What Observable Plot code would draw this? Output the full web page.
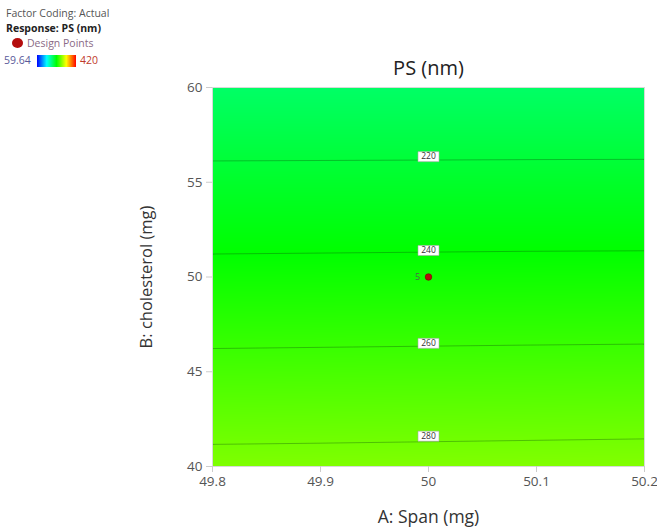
<!DOCTYPE html>
<html><head><meta charset="utf-8">
<script src="https://cdn.jsdelivr.net/npm/d3@7"></script>
<script src="https://cdn.jsdelivr.net/npm/@observablehq/plot@0.6"></script>
<style>
body{margin:0;background:#fff;font-family:"Open Sans",sans-serif}
#wrap{position:relative;width:657px;height:527px;overflow:hidden}
#wrap svg{position:absolute;left:0;top:0}
.lg{position:absolute;font-size:10.5px;white-space:nowrap;line-height:12px}
</style></head><body><div id="wrap"></div>
<script>
// Factor grid (actual units)
const spanLevels = [49.8, 50.2];            // A: Span (mg)
const cholLevels = [40, 45, 50, 55, 60];     // B: cholesterol (mg)
// PS (nm) at each grid point
const psAtLeft  = [284.6, 264.9, 244.9, 224.7, 203.8];
const psAtRight = [285.8, 265.9, 245.7, 225.1, 204.0];
// Contour levels and label positions (on A = 50)
const contourLevels = [220, 240, 260, 280];
const contourLabelB = [56.35, 51.4, 46.5, 41.6];
// Design points
const designA = [50];
const designB = [50];
const designN = ["5"];
// Axis ticks
const xTicks = [49.8, 49.9, 50, 50.1, 50.2];
const xTickLabels = ["49.8", "49.9", "50", "50.1", "50.2"];
const yTicks = [40, 45, 50, 55, 60];
// Colour scale
const colorDomain = [59.64, 149.73, 239.82, 329.91, 420];
const colorRange = ["#0000ff", "#00ffff", "#00ff00", "#ffff00", "#ff0000"];

const grid = [];
cholLevels.forEach((b, i) => {
  grid.push({A: spanLevels[0], B: b, ps: psAtLeft[i]});
  grid.push({A: spanLevels[1], B: b, ps: psAtRight[i]});
});
const labels = contourLevels.map((v, i) => ({A: 50, B: contourLabelB[i], t: String(v)}));
const points = designA.map((a, i) => ({A: a, B: designB[i], n: designN[i]}));

const bounds = {x1: 49.8, x2: 50.2, y1: 40, y2: 60};
const boxSymbol = {draw(ctx) { ctx.rect(-10.5, -5, 21, 10); }};

const chart = Plot.plot({
  width: 657, height: 527,
  marginLeft: 212, marginRight: 13, marginTop: 87, marginBottom: 61,
  style: {fontFamily: "Open Sans, sans-serif", fontSize: "13px", background: "transparent"},
  x: {domain: [49.8, 50.2]},
  y: {domain: [40, 60]},
  color: {type: "linear", domain: colorDomain, range: colorRange, interpolate: "rgb"},
  marks: [
    Plot.raster(grid, {x: "A", y: "B", fill: "ps", interpolate: "barycentric", pixelSize: 1, ...bounds}),
    Plot.contour(grid, {x: "A", y: "B", value: "ps", interpolate: "barycentric", pixelSize: 1, thresholds: contourLevels, fill: "none", stroke: "#0b4d0b", strokeOpacity: 0.35, strokeWidth: 1, ...bounds}),
    Plot.frame({stroke: "#d8d8d8"}),
    Plot.axisX({ticks: xTicks, tickFormat: (d, i) => xTickLabels[i], tickSize: 6, tickPadding: 4, label: null, fill: "#555", stroke: "#ccc", fontSize: 13.5}),
    Plot.axisY({ticks: yTicks, tickSize: 6, tickPadding: 4, label: null, fill: "#555", stroke: "#ccc", fontSize: 13.5}),
    Plot.dot(labels, {x: "A", y: "B", symbol: boxSymbol, r: 5, fill: "white", stroke: "#aaa", strokeWidth: 0.6}),
    Plot.text(labels, {x: "A", y: "B", text: "t", fontSize: 8.5, fill: "#333"}),
    Plot.dot(points, {x: "A", y: "B", r: 3.3, fill: "#b40d0d", stroke: "#7a0000", strokeWidth: 0.6}),
    Plot.text(points, {x: "A", y: "B", text: "n", dx: -11, fontSize: 9, fill: "#4b6b4b"}),
    Plot.text(["PS (nm)"], {text: d => d, frameAnchor: "top", lineAnchor: "middle", dy: -19, fontSize: 20, fill: "#222"}),
    Plot.text(["A: Span (mg)"], {text: d => d, frameAnchor: "bottom", lineAnchor: "middle", dy: 51, fontSize: 17.5, fill: "#333"}),
    Plot.text(["B: cholesterol (mg)"], {text: d => d, frameAnchor: "left", lineAnchor: "middle", textAnchor: "middle", rotate: -90, dx: -66, fontSize: 16.5, fill: "#333"})
  ]
});
const wrap = document.getElementById("wrap");
wrap.appendChild(chart);

// Legend (top-left)
const lg = document.createElement("div");
lg.innerHTML = `
<div class="lg" style="left:6px;top:7px;color:#555">Factor Coding: Actual</div>
<div class="lg" style="left:6px;top:22px;color:#222;font-weight:bold">Response: PS (nm)</div>
<div class="lg" style="left:12px;top:38px;width:11px;height:10px;border-radius:50%;background:#b40d0d"></div>
<div class="lg" style="left:27px;top:37px;color:#8a6a86">Design Points</div>
<div class="lg" style="left:4px;top:54px;color:#5a5a9a">59.64</div>
<div class="lg" style="left:37px;top:55px;width:39px;height:12px;background:linear-gradient(to right, ${colorRange.join(",")})"></div>
<div class="lg" style="left:80px;top:54px;color:#c0392b">420</div>`;
wrap.appendChild(lg);
</script>
</body></html>
